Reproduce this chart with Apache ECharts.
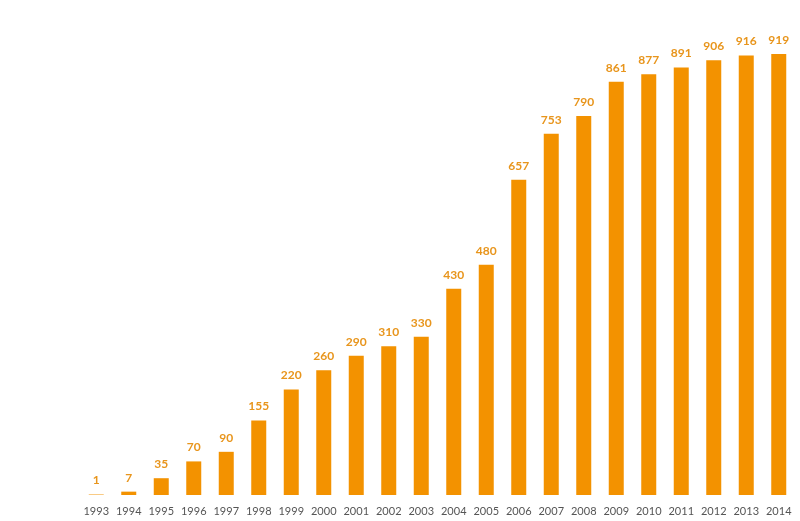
<!DOCTYPE html>
<html>
<head>
<meta charset="utf-8">
<script src="https://cdn.jsdelivr.net/npm/echarts@6/dist/echarts.min.js"></script>
<style>
html, body { margin: 0; padding: 0; background: #fff; }
#main { width: 800px; height: 521px; }
</style>
</head>
<body>
<div id="main"></div>
<script>
// 年份 / 数值
var years = ['1993', '1994', '1995', '1996', '1997', '1998', '1999', '2000', '2001', '2002', '2003',
    '2004', '2005', '2006', '2007', '2008', '2009', '2010', '2011', '2012', '2013', '2014'];
var values = [1, 7, 35, 70, 90, 155, 220, 260, 290, 310, 330,
    430, 480, 657, 753, 790, 861, 877, 891, 906, 916, 919];

var chart = echarts.init(document.getElementById('main'));
chart.setOption({
    animation: false,
    grid: {
        left: 80,
        right: 5,
        top: 54,
        bottom: 26
    },
    xAxis: {
        type: 'category',
        data: years,
        axisLine: { show: false },
        axisTick: { show: false },
        axisLabel: {
            interval: 0,
            margin: 11,
            color: '#555',
            fontSize: 11,
            fontFamily: 'Lato'
        }
    },
    yAxis: {
        type: 'value',
        min: 0,
        max: 919,
        show: false,
        splitLine: { show: false }
    },
    series: [{
        type: 'bar',
        data: values,
        barWidth: 15,
        itemStyle: { color: '#f39200' },
        label: {
            show: true,
            position: 'top',
            distance: 8,
            color: '#e8951c',
            fontSize: 12,
            fontWeight: 'bold',
            fontFamily: 'Lato'
        }
    }]
});
</script>
</body>
</html>
